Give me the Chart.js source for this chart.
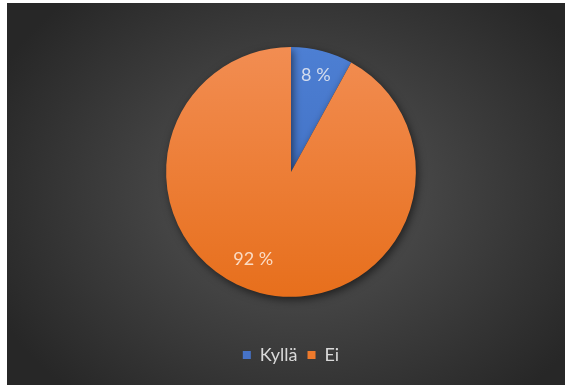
<!DOCTYPE html>
<html>
<head>
<meta charset="utf-8">
<script src="https://cdn.jsdelivr.net/npm/chart.js@4.4.0/dist/chart.umd.min.js"></script>
<style>
  html, body { margin: 0; padding: 0; background: #fff; }
  #wrap {
    position: absolute; left: 7px; top: 3px; width: 558px; height: 382px;
    background: radial-gradient(ellipse 60% 70% at 52% 50%, #585858 0%, #3d3d3d 55%, #272727 100%);
  }
</style>
</head>
<body>
<div id="wrap"><canvas id="myChart"></canvas></div>
<script>
const labels = ["Kyllä", "Ei"];
const values = [8, 92];
const percentLabels = ["8 %", "92 %"];

// slice colours: top and bottom of the vertical gradient, plus flat legend colour
const topColors = ["#4d7fd3", "#f28d52"];
const bottomColors = ["#3a68bb", "#e76f1c"];
const legendColors = ["#4673c8", "#ee7a2c"];

// where the value text sits inside each slice (fraction of radius, extra angle in degrees)
const labelSpots = [
  { rad: 0.8, turn: 0 },
  { rad: 0.76, turn: 9 }
];

function sliceFill(ctx) {
  const i = ctx.dataIndex;
  const area = ctx.chart.chartArea;
  if (!area) return topColors[i];
  const g = ctx.chart.ctx.createLinearGradient(0, area.top, 0, area.bottom);
  g.addColorStop(0, topColors[i]);
  g.addColorStop(1, bottomColors[i]);
  return g;
}

const sliceShadow = {
  id: "sliceShadow",
  beforeDatasetsDraw(chart) {
    const c = chart.ctx;
    c.save();
    c.shadowColor = "rgba(0,0,0,0.55)";
    c.shadowBlur = 8;
    c.shadowOffsetX = 2;
    c.shadowOffsetY = 3;
  },
  afterDatasetsDraw(chart) {
    chart.ctx.restore();
  }
};

const valueText = {
  id: "valueText",
  afterDatasetsDraw(chart) {
    const c = chart.ctx;
    const arcs = chart.getDatasetMeta(0).data;
    c.save();
    c.font = "18px Lato, 'Open Sans', sans-serif";
    c.textAlign = "center";
    c.textBaseline = "middle";
    arcs.forEach((arc, i) => {
      const p = arc.getProps(["x", "y", "startAngle", "endAngle", "outerRadius"], true);
      const mid = (p.startAngle + p.endAngle) / 2 + labelSpots[i].turn * Math.PI / 180;
      const r = p.outerRadius * labelSpots[i].rad;
      c.fillStyle = i === 0 ? "rgba(222,228,240,0.92)" : "rgba(252,226,206,0.95)";
      c.fillText(percentLabels[i], p.x + Math.cos(mid) * r, p.y + Math.sin(mid) * r);
    });
    c.restore();
  }
};

let myChart = document.getElementById("myChart");
let pieChart = new Chart(myChart, {
  type: "pie",
  data: {
    labels: labels,
    datasets: [
      {
        data: values,
        backgroundColor: sliceFill,
        borderWidth: 0,
        hoverOffset: 0
      }
    ]
  },
  options: {
    responsive: true,
    maintainAspectRatio: false,
    animation: false,
    layout: { padding: { top: 44, left: 10, right: 0, bottom: 11 } },
    plugins: {
      tooltip: { enabled: false },
      legend: {
        position: "bottom",
        // empty title just pushes the legend row further below the pie
        title: { display: true, text: " ", font: { size: 1 }, padding: { top: 38, bottom: 0 } },
        labels: {
          color: "#d9d9d9",
          font: { family: "Lato, 'Open Sans', sans-serif", size: 18 },
          boxWidth: 8,
          boxHeight: 8,
          padding: 10,
          generateLabels(chart) {
            return labels.map((t, i) => ({
              text: t, fillStyle: legendColors[i], strokeStyle: legendColors[i], lineWidth: 0,
              fontColor: "#d9d9d9", index: i, hidden: false
            }));
          }
        }
      }
    }
  },
  plugins: [sliceShadow, valueText]
});
</script>
</body>
</html>
